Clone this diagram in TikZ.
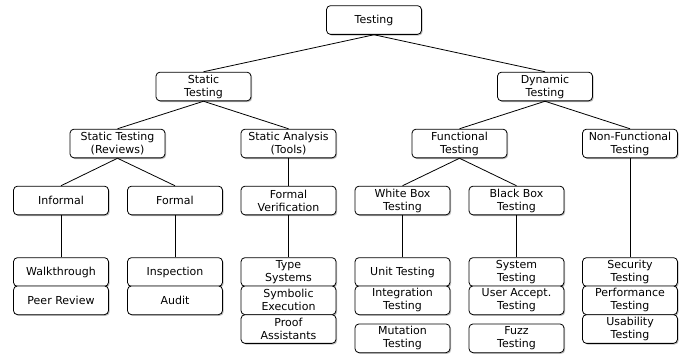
\documentclass[tikz,border=0pt]{standalone}
\usepackage{fontspec}
\setmainfont{DejaVu Sans}
\usetikzlibrary{shadows}
\begin{document}
\begin{tikzpicture}[x=1pt,y=-1pt,
  box/.style={draw=black, line width=0.8pt, rounded corners=4pt, fill=white,
    minimum width=95pt, minimum height=28.7pt, inner sep=1pt, align=center,
    font=\fontsize{11}{13}\selectfont,
    drop shadow={shadow xshift=1.2pt, shadow yshift=-1.2pt, fill=gray, opacity=0.5}},
  link/.style={draw=black, line width=0.8pt}]
\useasboundingbox (0,0) rectangle (685,356);

% level 0 and 1
\node[box] (top) at (374,20) {Testing};
\node[box] (st)  at (203.5,86.5) {Static\\Testing};
\node[box] (dy)  at (545,86.5) {Dynamic\\Testing};

% level 2
\node[box] (rev)   at (117.5,143.5) {Static Testing\\(Reviews)};
\node[box] (tools) at (288.5,143.5) {Static Analysis\\(Tools)};
\node[box] (fun)   at (459.5,143.5) {Functional\\Testing};
\node[box] (nf)    at (630,143.5) {Non-Functional\\Testing};

% level 3
\node[box] (inf) at (61,200.5) {Informal};
\node[box] (frm) at (175,200.5) {Formal};
\node[box] (fv)  at (288.5,200.5) {Formal\\Verification};
\node[box] (wb)  at (402.5,200.5) {White Box\\Testing};
\node[box] (bb)  at (516.5,200.5) {Black Box\\Testing};

% leaf stacks
\node[box] (walk) at (61,272) {Walkthrough};
\node[box] (peer) at (61,300.3) {Peer Review};

\node[box] (insp)  at (175,272) {Inspection};
\node[box] (audit) at (175,300.3) {Audit};

\node[box] (type)  at (288.5,272) {Type\\Systems};
\node[box] (symb)  at (288.5,300.3) {Symbolic\\Execution};
\node[box] (proof) at (288.5,329) {Proof\\Assistants};

\node[box] (unit)  at (402.5,272) {Unit Testing};
\node[box] (integ) at (402.5,300.3) {Integration\\Testing};
\node[box] (mut)   at (402.5,338.3) {Mutation\\Testing};

\node[box] (sys)  at (516.5,272) {System\\Testing};
\node[box] (uat)  at (516.5,300.3) {User Accept.\\Testing};
\node[box] (fuzz) at (516.5,338.3) {Fuzz\\Testing};

\node[box] (sec)  at (630,272) {Security\\Testing};
\node[box] (perf) at (630,300.3) {Performance\\Testing};
\node[box] (usab) at (630,329) {Usability\\Testing};

% connectors
\draw[link] (top.south) -- (st.north);
\draw[link] (top.south) -- (dy.north);
\draw[link] (st.south) -- (rev.north);
\draw[link] (st.south) -- (tools.north);
\draw[link] (dy.south) -- (fun.north);
\draw[link] (dy.south) -- (nf.north);
\draw[link] (rev.south) -- (inf.north);
\draw[link] (rev.south) -- (frm.north);
\draw[link] (tools.south) -- (fv.north);
\draw[link] (fun.south) -- (wb.north);
\draw[link] (fun.south) -- (bb.north);
\draw[link] (nf.south) -- (sec.north);
\draw[link] (inf.south) -- (walk.north);
\draw[link] (frm.south) -- (insp.north);
\draw[link] (fv.south) -- (type.north);
\draw[link] (wb.south) -- (unit.north);
\draw[link] (bb.south) -- (sys.north);
\end{tikzpicture}
\end{document}
